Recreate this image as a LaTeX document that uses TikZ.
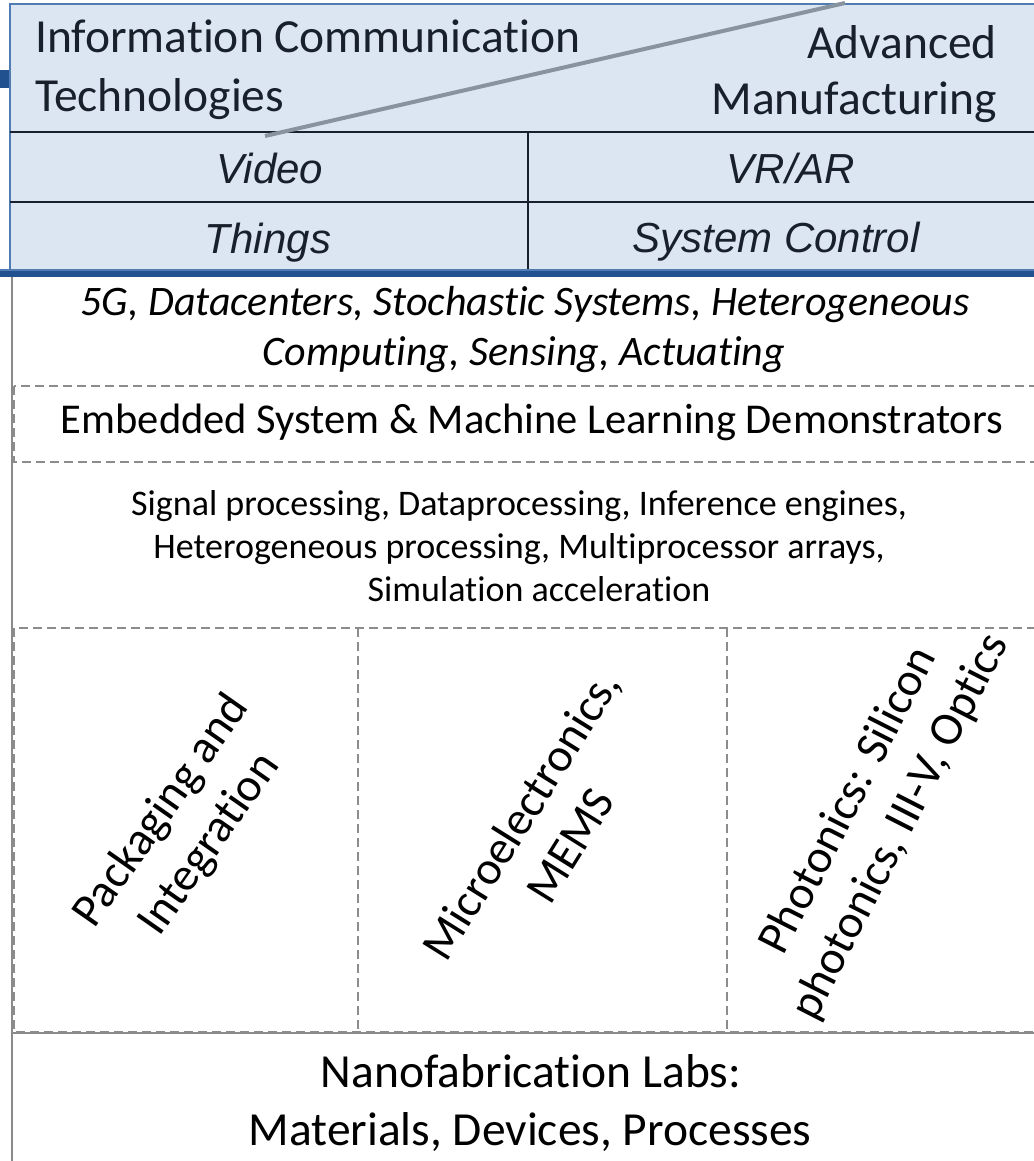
\documentclass[tikz,border=0pt]{standalone}
\usepackage{fontspec}
\setmainfont{Carlito}[Ligatures=NoCommon]
\newfontfamily\arialfont{Liberation Sans}
\definecolor{cellfill}{HTML}{DCE6F2}
\definecolor{frameblue}{HTML}{4F7DB3}
\definecolor{barblue}{HTML}{22518F}
\definecolor{ink}{HTML}{17202B}
\definecolor{diagline}{HTML}{8893A0}
\definecolor{railgray}{HTML}{8A8A8A}
\definecolor{dashgray}{HTML}{8C8C8C}
\tikzset{
  headtext/.style={inner sep=0pt, text=ink, font=\fontsize{47.5}{59}\selectfont},
  celltext/.style={inner sep=0pt, text=ink, font=\arialfont\itshape\fontsize{42}{50}\selectfont},
  bodytext/.style={inner sep=0pt, text=black},
  slanttext/.style={inner sep=0pt, text=black, align=center, font=\fontsize{47}{58}\selectfont},
  gridline/.style={draw=ink, line width=2.5pt},
  dashbox/.style={draw=dashgray, line width=2pt, dash pattern=on 9pt off 5pt},
  rail/.style={draw=railgray, line width=2.5pt}
}
\begin{document}
\begin{tikzpicture}[x=1pt,y=-1pt]
\useasboundingbox (0,0) rectangle (1033,1161);
\fill[white] (0,0) rectangle (1033,1161);

% header table
\fill[cellfill] (10,4) rectangle (1040,272);
\draw[frameblue, line width=2.5pt] (1040,4) -- (10,4) -- (10,272);
\fill[barblue] (0,70) rectangle (9,88);
\coordinate (rowA) at (10,132);
\coordinate (rowAe) at (1040,132);
\coordinate (rowB) at (10,202);
\coordinate (rowBe) at (1040,202);
\coordinate (colT) at (528,132);
\coordinate (colB) at (528,270);
\draw[gridline] (rowA) -- (rowAe);
\draw[gridline] (rowB) -- (rowBe);
\draw[gridline] (colT) -- (colB);
\fill[barblue] (0,270) rectangle (1040,277);
\fill[frameblue] (0,269) rectangle (1040,271);

% diagonal split of the header cell
\coordinate (diagA) at (265,136);
\coordinate (diagB) at (845,3);
\draw[diagline, line width=4pt] (diagA) -- (diagB);

\node[headtext, anchor=base west] (ict1) at (35,53) {Information Communication};
\node[headtext, anchor=base west] (ict2) at (35,112) {Technologies};
\node[headtext, anchor=base east] (am1) at (997,59) {Advanced};
\node[headtext, anchor=base east] (am2) at (997,115) {Manufacturing};

\node[celltext, anchor=base] (video) at (270,183) {Video};
\node[celltext, anchor=base] (vrar) at (791,183) {VR/AR};
\node[celltext, anchor=base] (things) at (268,253) {Things};
\node[celltext, anchor=base] (sysctl) at (776,252) {System Control};

% left rail and lower frames
\coordinate (railT) at (12,277);
\coordinate (railB) at (12,1165);
\draw[rail] (railT) -- (railB);
\coordinate (nanoL) at (12,1033);
\coordinate (nanoR) at (1040,1033);
\draw[rail] (nanoL) -- (nanoR);

\draw[dashbox] (14,386) rectangle (1045,462);
\draw[dashbox] (14,628) rectangle (1045,1032);
\coordinate (divAT) at (358,628);
\coordinate (divAB) at (358,1032);
\coordinate (divBT) at (727,628);
\coordinate (divBB) at (727,1032);
\draw[dashbox] (divAT) -- (divAB);
\draw[dashbox] (divBT) -- (divBB);

\node[bodytext, anchor=base, font=\itshape\fontsize{42}{51}\selectfont] (apps1) at (525,315) {5G, Datacenters, Stochastic Systems, Heterogeneous};
\node[bodytext, anchor=base, font=\itshape\fontsize{42}{51}\selectfont] (apps2) at (524,365) {Computing, Sensing, Actuating};

\node[bodytext, anchor=base, font=\fontsize{42.5}{51}\selectfont] (embedded) at (532,433) {Embedded System \& Machine Learning Demonstrators};

\node[bodytext, anchor=base, font=\fontsize{36}{44}\selectfont] (sig1) at (519,515) {Signal processing, Dataprocessing, Inference engines,};
\node[bodytext, anchor=base, font=\fontsize{36}{44}\selectfont] (sig2) at (519,558) {Heterogeneous processing, Multiprocessor arrays,};
\node[bodytext, anchor=base, font=\fontsize{36}{44}\selectfont] (sig3) at (539,601) {Simulation acceleration};

\node[slanttext, rotate=55] (pack) at (186,828) {Packaging and\\Integration};
\node[slanttext, rotate=58] (micro) at (545,830) {Microelectronics,\\MEMS};
\node[slanttext, rotate=63] (photo) at (875,814) {Photonics: Silicon\\photonics, III-V, Optics};

\node[bodytext, anchor=base, font=\fontsize{47.5}{58}\selectfont] (nano1) at (531,1087) {Nanofabrication Labs:};
\node[bodytext, anchor=base, font=\fontsize{47.5}{58}\selectfont] (nano2) at (530,1145) {Materials, Devices, Processes};
\end{tikzpicture}
\end{document}
